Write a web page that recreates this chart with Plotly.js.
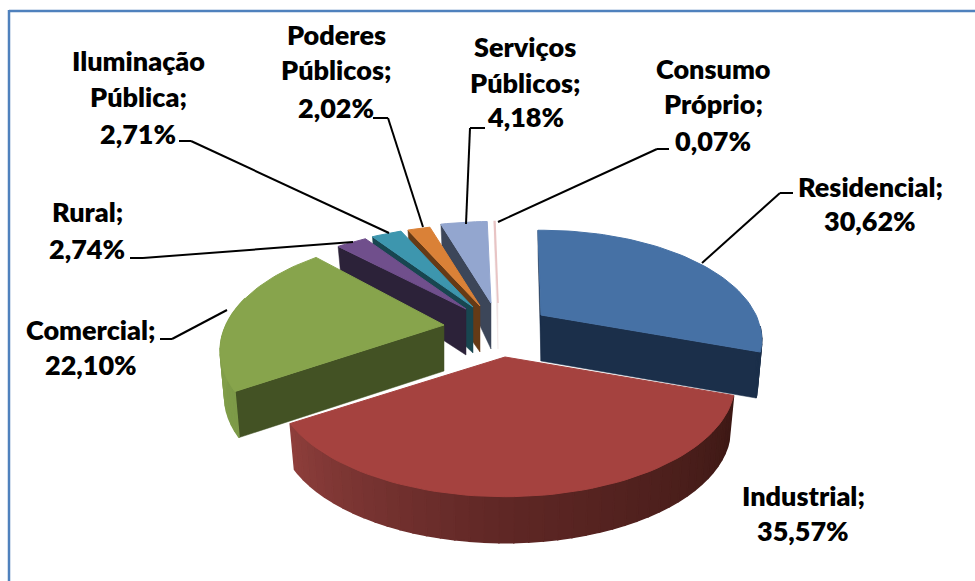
<!DOCTYPE html>
<html><head><meta charset="utf-8">
<script src="https://cdn.plot.ly/plotly-3.0.1.min.js"></script>
<style>html,body{margin:0;padding:0;background:#fff}#c{width:975px;height:581px}</style>
</head><body><div id="c"></div>
<script>
const categories=['Residencial','Industrial','Comercial','Rural','Iluminação Pública','Poderes Públicos','Serviços Públicos','Consumo Próprio'];
const values=[30.62,35.57,22.10,2.74,2.71,2.02,4.18,0.07];
const topColors=['#4671a5','#a5423f','#87a44c','#704f8c','#3d96ae','#da8137','#93a6cf','#e8c4c4'];
const cutColors=['#1b2f4a','#43201e','#435224','#2c2239','#184650','#653a16','#3c4659','#f0e4e4'];
const apexX=[541,505,444,466,473,480,491,498];
const apexY=[315,357,325,309,307,306,303,303];
const radiusX=[215,224,218,218,218,218,218,218];
const radiusY=[104,108,108,100,100,100,100,100];
const drawOrder=[7,6,5,4,3,0,2,1];
const labelLines=[['Residencial;','30,62%'],['Industrial;','35,57%'],['Comercial;','22,10%'],['Rural;','2,74%'],['Iluminação','Pública;','2,71%'],['Poderes','Públicos;','2,02%'],['Serviços','Públicos;','4,18%'],['Consumo','Próprio;','0,07%']];
const labelX=[870,803,91,87,138,336,525,713];
const labelY=[[186,220],[495,530],[329,364],[211,248],[60,96,133],[34,69,107],[46,82,116],[68,103,140]];
const leaders=[[[793,193],[780,193],[702,263]],[],[[160,339],[172,339],[227,310]],[[130,258],[143,258],[353,242]],[[179,141],[191,141],[389,233]],[[373,118],[388,118],[423,227]],[[485,128],[470,128],[466,224]],[[669,149],[657,149],[498,222]]];

const K=0.227,D=46,ROT=-1;
const rad=d=>d*Math.PI/180;
function rimTop(i,ang){const u=Math.sin(rad(ang)),v=Math.cos(rad(ang)),d=1+K*v;return [apexX[i]+radiusX[i]*u/d,apexY[i]-radiusY[i]*v/d];}
function rimBot(i,ang){const u=Math.sin(rad(ang)),v=Math.cos(rad(ang)),d=1+K*v;const dep=v>0?D-26*v:D;return [apexX[i]+0.98*radiusX[i]*u/d,apexY[i]-radiusY[i]*v/d+dep];}
function mix(a,b,t){const p=s=>[1,3,5].map(j=>parseInt(s.substr(j,2),16));const x=p(a),y=p(b);return 'rgb('+x.map((c,j)=>Math.round(c+(y[j]-c)*t)).join(',')+')';}
function poly(pts,color,name,lw){return {type:'scatter',mode:'lines',x:pts.map(p=>p[0]).concat([pts[0][0]]),y:pts.map(p=>p[1]).concat([pts[0][1]]),fill:'toself',fillcolor:color,line:{color:color,width:lw===undefined?0.5:lw},name:name,hoverinfo:'skip',showlegend:false};}

const starts=[];let acc=ROT;
values.forEach(v=>{starts.push(acc);acc+=v*3.6;});
const wallColor=(i,ang)=>{
  if(i===1){const t=(238-ang)/128;return t<0.45?mix('#8f3f3c','#5f2725',t/0.45):mix('#5f2725','#3c1814',(t-0.45)/0.55);}
  if(i===2)return mix('#7d9a48','#86a34c',Math.max(0,Math.min(1,(ang-238)/50)));
  return cutColors[i];
};
const traces=[];
drawOrder.forEach(i=>{
  const s=starts[i],e=s+values[i]*3.6,nm=categories[i];
  const sn=(s+360)%360,en=(e+360)%360;
  if(sn>180)traces.push(poly([[apexX[i],apexY[i]],rimTop(i,s),rimBot(i,s),[apexX[i],apexY[i]+D]],cutColors[i],nm));
  if(en<180)traces.push(poly([[apexX[i],apexY[i]],rimTop(i,e),rimBot(i,e),[apexX[i],apexY[i]+D]],cutColors[i],nm));
  const lo=Math.max(s,96),hi=Math.min(e,285);
  for(let a=lo;a<hi;a+=3){
    const b=Math.min(a+3,hi);
    traces.push(poly([rimTop(i,a),rimTop(i,b),rimBot(i,b),rimBot(i,a)],wallColor(i,(a+b)/2),nm,1.5));
  }
  const pts=[[apexX[i],apexY[i]]];
  const n=Math.max(2,Math.ceil((e-s)/2));
  for(let j=0;j<=n;j++)pts.push(rimTop(i,s+(e-s)*j/n));
  traces.push(poly(pts,topColors[i],nm,i===7?1.5:1));
});

const annotations=[];
labelLines.forEach((ls,i)=>ls.forEach((t,j)=>annotations.push({x:labelX[i],y:labelY[i][j],xref:'x',yref:'y',text:t,showarrow:false,xanchor:'center',yanchor:'middle',font:{family:'Lato, sans-serif',size:27,color:'#000',weight:800}})));
const shapes=[];
leaders.forEach(l=>{for(let j=0;j+1<l.length;j++)shapes.push({type:'line',xref:'x',yref:'y',x0:l[j][0],y0:l[j][1],x1:l[j+1][0],y1:l[j+1][1],line:{color:'#000',width:2}});});
shapes.push({type:'line',xref:'x',yref:'y',x0:9,y0:11,x1:975,y1:11,line:{color:'#4f81bd',width:2.5}});
shapes.push({type:'line',xref:'x',yref:'y',x0:9,y0:10,x1:9,y1:581,line:{color:'#4f81bd',width:2.5}});

Plotly.newPlot('c',traces,{width:975,height:581,margin:{l:0,r:0,t:0,b:0},paper_bgcolor:'#fff',plot_bgcolor:'#fff',showlegend:false,
 xaxis:{range:[0,975],visible:false,fixedrange:true},yaxis:{range:[581,0],visible:false,fixedrange:true},annotations,shapes},{displayModeBar:false,staticPlot:true});
</script></body></html>
